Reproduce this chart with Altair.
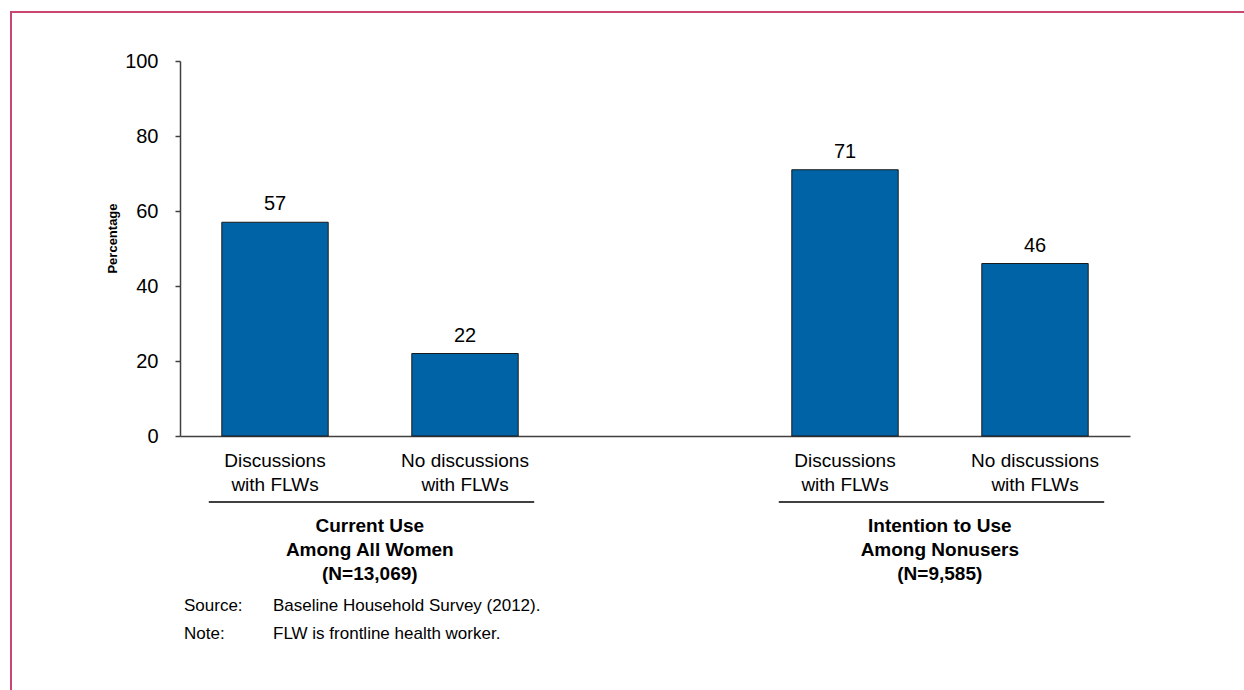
import altair as alt
import pandas as pd

# ---- data ----
slot_domain = ["A1", "A2", "gap", "B1", "B2"]
bar_keys = ["A1", "A2", "B1", "B2"]
bar_labels = ["Discussions\nwith FLWs", "No discussions\nwith FLWs",
              "Discussions\nwith FLWs", "No discussions\nwith FLWs"]
values = [57, 22, 71, 46]
group_labels = ["Current Use\nAmong All Women\n(N=13,069)",
                "Intention to Use\nAmong Nonusers\n(N=9,585)"]
group_start = ["A1", "B1"]
group_end = ["A2", "B2"]
y_ticks = [0, 20, 40, 60, 80, 100]
notes_head = ["Source:", "Note:"]
notes_body = ["Baseline Household Survey (2012).", "FLW is frontline health worker."]

bars_df = pd.DataFrame({"key": bar_keys, "label": bar_labels, "value": values})
groups_df = pd.DataFrame({"start": group_start, "end": group_end, "label": group_labels})
notes_df = pd.DataFrame({"head": notes_head, "body": notes_body, "row": [0, 1]})

W, H = 950, 375
FONT = "Liberation Sans"
BAR = "#0063a6"
AX = "#404040"

xs = alt.Scale(domain=slot_domain, paddingInner=0.44, paddingOuter=0.22)
ys = alt.Scale(domain=[0, 100])

base = alt.Chart(bars_df)

bars = base.mark_bar(color=BAR, stroke="#1a1a1a", strokeWidth=1).encode(
    x=alt.X("key:N", scale=xs, sort=slot_domain,
            axis=alt.Axis(labels=False, ticks=False, title=None, domainColor=AX,
                          domainWidth=1.5)),
    y=alt.Y("value:Q", scale=ys,
            axis=alt.Axis(values=y_ticks, title="Percentage", grid=False,
                          labelFontSize=20, labelFont=FONT, labelColor="#000",
                          labelPadding=17, tickSize=5, tickColor=AX, tickWidth=1.5,
                          domainColor=AX, domainWidth=1.5,
                          titleFont=FONT, titleFontSize=13, titleFontWeight="bold",
                          titleColor="#000", titleAngle=-90, titleX=-68, titleY=177,
                          titleAlign="center", titleBaseline="middle")),
)

value_text = base.mark_text(font=FONT, fontSize=20, color="#000", dy=-12,
                            baseline="alphabetic").encode(
    x=alt.X("key:N", scale=xs, sort=slot_domain),
    y=alt.Y("value:Q", scale=ys),
    text=alt.Text("value:Q"),
)

cat_text = base.mark_text(font=FONT, fontSize=19, color="#000", lineBreak="\n",
                          lineHeight=24, baseline="alphabetic").encode(
    x=alt.X("key:N", scale=xs, sort=slot_domain),
    y=alt.value(H + 31),
    text="label:N",
)

g = alt.Chart(groups_df)
group_rule = g.mark_rule(color="#000", strokeWidth=1.5, xOffset=-13, x2Offset=16).encode(
    x=alt.X("start:N", scale=xs, sort=slot_domain, bandPosition=0),
    x2=alt.X2("end:N", bandPosition=1),
    y=alt.value(H + 66),
)
group_text = g.mark_text(font=FONT, fontSize=19, fontWeight="bold", color="#000",
                         lineBreak="\n", lineHeight=24, baseline="alphabetic",
                         dx=-42).encode(
    x=alt.X("end:N", scale=xs, sort=slot_domain, bandPosition=0),
    y=alt.value(H + 96),
    text="label:N",
)

note_layers = []
for r, yv in [(0, H + 175), (1, H + 203)]:
    nr = alt.Chart(notes_df).transform_filter(alt.datum.row == r)
    note_layers.append(nr.mark_text(font=FONT, fontSize=17, color="#000", align="left",
                                    baseline="alphabetic").encode(
        x=alt.value(4), y=alt.value(yv), text="head:N"))
    note_layers.append(nr.mark_text(font=FONT, fontSize=17, color="#000", align="left",
                                    baseline="alphabetic").encode(
        x=alt.value(93), y=alt.value(yv), text="body:N"))

border = alt.Chart(pd.DataFrame({"k": [0]})).mark_rect(
    filled=False, stroke="#c9476f", strokeWidth=2
).encode(
    x=alt.value(-169), x2=alt.value(1244 - 180 + 20),
    y=alt.value(-49), y2=alt.value(690 - 61 + 20),
)

chart = alt.layer(border, bars, value_text, cat_text, group_rule, group_text,
                  *note_layers).properties(
    width=W, height=H,
    autosize=alt.AutoSizeParams(type="none"),
    padding={"left": 180, "top": 61, "right": 114, "bottom": 254},
    background="white",
).configure_view(stroke=None)

chart.save("out.html", embed_options={"renderer": "svg", "actions": False})
